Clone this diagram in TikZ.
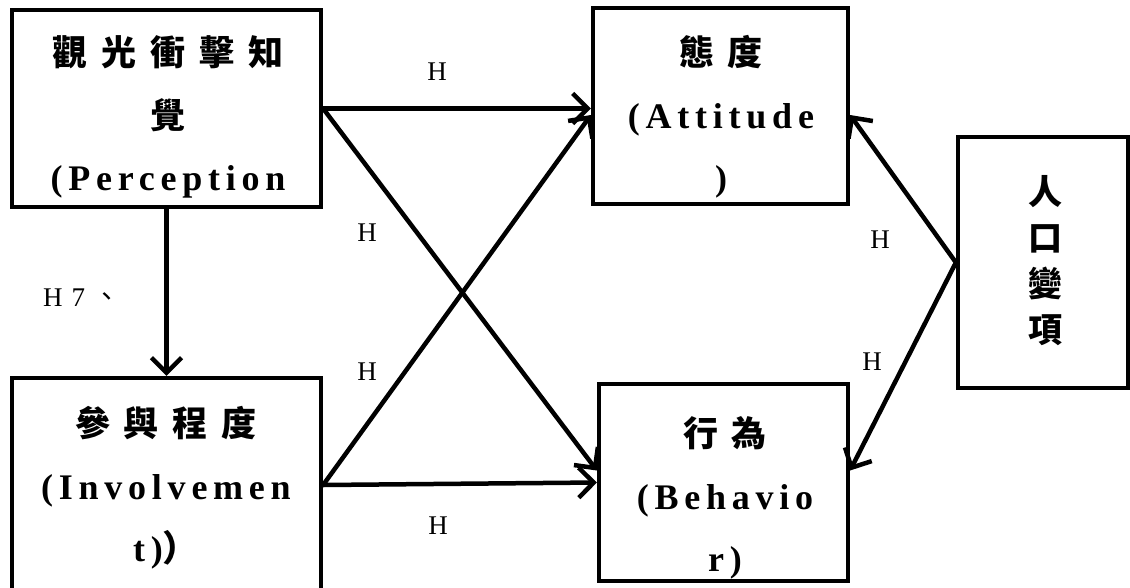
\documentclass[tikz,border=0pt]{standalone}
\usepackage{fontspec}
\setmainfont{Liberation Serif}
\newfontfamily\cjkb{Noto Sans CJK TC}[LetterSpace=40]
\newfontfamily\cjkr{Noto Sans CJK TC}
\newfontfamily\latb{Liberation Serif}[LetterSpace=16]
\usetikzlibrary{arrows.meta,calc}
\begin{document}
\begin{tikzpicture}[x=1pt,y=-1pt,
  box/.style={draw,line width=4.2pt,inner sep=0pt},
  conn/.style={line width=4.5pt,-{Straight Barb[length=15pt,width=30pt,line width=4.5pt]}},
  ttl/.style={align=center,inner sep=0pt,font=\fontsize{36}{62.5}\selectfont\bfseries},
  hl/.style={inner sep=0pt,font=\fontsize{27}{30}\selectfont}]
\useasboundingbox[fill=white] (0,0) rectangle (1130,587);
% boxes
\node[box,minimum width=309pt,minimum height=197pt] (P) at (166.5,108.5) {};
\node[box,minimum width=309pt,minimum height=214pt] (I) at (166.5,485) {};
\node[box,minimum width=255pt,minimum height=196pt] (A) at (720.5,106) {};
\node[box,minimum width=249pt,minimum height=197pt] (B) at (723.5,482.5) {};
\node[box,minimum width=170pt,minimum height=251pt] (D) at (1043,262.5) {};
% box texts
\node[ttl] (Pt) at (168,117) {{\cjkb\fontsize{35}{62.5}\selectfont\bfseries 觀光衝擊知}\\{\cjkb\fontsize{35}{62.5}\selectfont\bfseries 覺}\\{\latb\bfseries (Perception}};
\node[ttl] (It) at (166,488) {{\cjkb\fontsize{35}{62.5}\selectfont\bfseries 參與程度}\\{\latb\bfseries (Involvemen}\\{\latb\bfseries t)}{\cjkb\bfseries ）}};
\node[ttl] (At) at (721,117) {{\cjkb\fontsize{35}{62.5}\selectfont\bfseries 態度}\\{\latb\bfseries (Attitude}\\{\latb\bfseries )}};
\node[ttl] (Bt) at (725,498) {{\cjkb\fontsize{35}{62.5}\selectfont\bfseries 行為}\\{\latb\bfseries (Behavio}\\{\latb\bfseries r)}};
\node[align=center,inner sep=0pt,font=\fontsize{34}{46}\selectfont\cjkr\bfseries] (Dt) at (1045,261) {人\\口\\變\\項};
% connectors
\draw[conn] (P.south) -- (I.north);
\draw[conn] (P.east) -- (A.west |- P.east);
\draw[conn] (P.east) -- ([yshift=12pt]B.west);
\draw[conn] (I.east) -- ([yshift=-9pt]A.west);
\draw[conn] (I.east) -- (B.west);
\draw[conn] (D.west) -- ([yshift=-9pt]A.east);
\draw[conn] (D.west) -- ([yshift=12pt]B.east);
% labels
\node[hl] (h1) at (437,72) {H};
\node[hl] (h2) at (367,233) {H};
\node[hl] (h3) at (367,372) {H};
\node[hl] (h4) at (438,526) {H};
\node[hl] (h5) at (880,240) {H};
\node[hl] (h6) at (872,362) {H};
\node[hl,anchor=west] (h7) at (43,298) {H\hspace{9pt}7\hspace{8pt}{\cjkr 、}};
\end{tikzpicture}
\end{document}
